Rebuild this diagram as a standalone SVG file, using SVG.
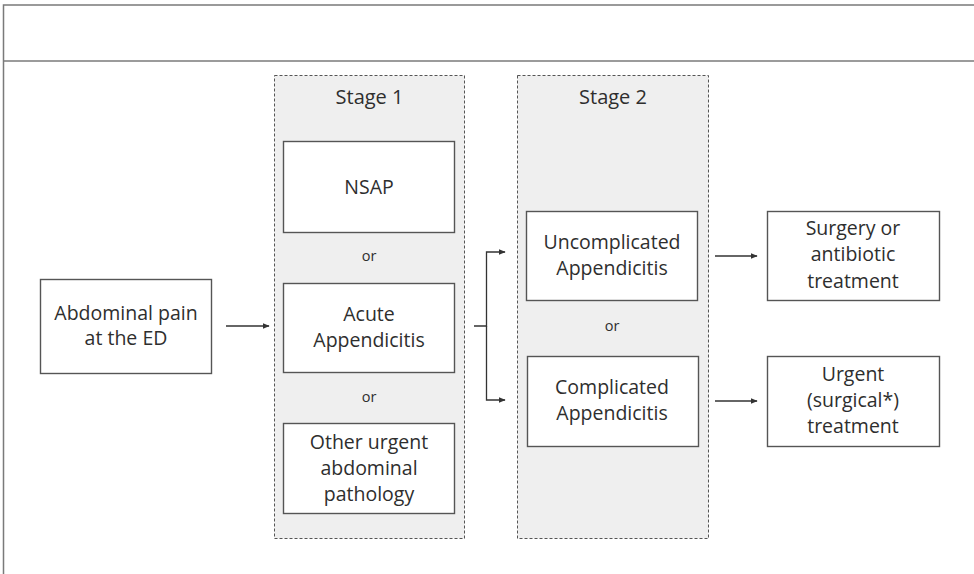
<svg xmlns="http://www.w3.org/2000/svg" width="974" height="574" viewBox="0 0 974 574">
  <style>
    text { font-family: "Open Sans", "Noto Sans", sans-serif; fill: #2e2e2e; text-anchor: middle; }
    .lbl { font-size: 19.5px; }
    .ttl { font-size: 20px; }
    .or { font-size: 14.5px; }
    .box { fill: #ffffff; stroke: #555555; stroke-width: 1.4; }
    .stage { fill: #efefef; stroke: #555555; stroke-width: 1; stroke-dasharray: 3 2; }
    .frame { fill: none; stroke: #7a7a7a; stroke-width: 1.5; }
    .conn { fill: none; stroke: #333333; stroke-width: 1.3; }
  </style>
  <defs>
    <marker id="arrow" viewBox="0 0 10 10" refX="9" refY="5" markerWidth="7" markerHeight="7" markerUnits="userSpaceOnUse" orient="auto">
      <path d="M0,1 L10,5 L0,9 z" fill="#333333"/>
    </marker>
  </defs>

  <rect width="974" height="574" fill="#ffffff"/>

  <!-- page frame with header band -->
  <g id="frame">
    <path class="frame" d="M974,5 H3.5 V574"/>
    <path class="frame" d="M3.5,61 H974" stroke="#999999"/>
  </g>

  <!-- stage panels -->
  <g id="stage1">
    <rect class="stage" x="274.5" y="75.5" width="190" height="463"/>
    <text class="ttl" x="369.5" y="104">Stage 1</text>
  </g>
  <g id="stage2">
    <rect class="stage" x="517.5" y="75.5" width="191" height="463"/>
    <text class="ttl" x="613" y="104">Stage 2</text>
  </g>

  <g id="start">
    <rect class="box" x="40.5" y="279.5" width="171" height="94"/>
    <text class="lbl" x="126" y="320">Abdominal pain</text>
    <text class="lbl" x="126" y="345">at the ED</text>
  </g>

  <g id="nsap">
    <rect class="box" x="283.5" y="141.5" width="171" height="91"/>
    <text class="lbl" x="369" y="194">NSAP</text>
  </g>
  <text class="or" x="369" y="261">or</text>

  <g id="acute">
    <rect class="box" x="283.5" y="283.5" width="171" height="89"/>
    <text class="lbl" x="369" y="321">Acute</text>
    <text class="lbl" x="369" y="347">Appendicitis</text>
  </g>
  <text class="or" x="369" y="402">or</text>

  <g id="other">
    <rect class="box" x="283.5" y="423.5" width="171" height="90"/>
    <text class="lbl" x="369" y="449">Other urgent</text>
    <text class="lbl" x="369" y="475">abdominal</text>
    <text class="lbl" x="369" y="501">pathology</text>
  </g>

  <g id="uncomplicated">
    <rect class="box" x="526.5" y="211.5" width="171" height="89"/>
    <text class="lbl" x="612" y="249">Uncomplicated</text>
    <text class="lbl" x="612" y="275">Appendicitis</text>
  </g>
  <text class="or" x="612" y="331">or</text>

  <g id="complicated">
    <rect class="box" x="527.5" y="356.5" width="171" height="90"/>
    <text class="lbl" x="612" y="394">Complicated</text>
    <text class="lbl" x="612" y="420">Appendicitis</text>
  </g>

  <g id="surgery">
    <rect class="box" x="767.5" y="211.5" width="172" height="89"/>
    <text class="lbl" x="853" y="235">Surgery or</text>
    <text class="lbl" x="853" y="261">antibiotic</text>
    <text class="lbl" x="853" y="288">treatment</text>
  </g>

  <g id="urgent">
    <rect class="box" x="767.5" y="356.5" width="172" height="90"/>
    <text class="lbl" x="853" y="381">Urgent</text>
    <text class="lbl" x="853" y="407">(surgical*)</text>
    <text class="lbl" x="853" y="433">treatment</text>
  </g>

  <!-- connectors -->
  <g id="connectors">
    <path class="conn" d="M226,326 H269" marker-end="url(#arrow)"/>
    <path class="conn" d="M474,326 H486.5 V252 H505" marker-end="url(#arrow)"/>
    <path class="conn" d="M486.5,326 V400 H505" marker-end="url(#arrow)"/>
    <path class="conn" d="M715,256 H757" marker-end="url(#arrow)"/>
    <path class="conn" d="M715,401 H757" marker-end="url(#arrow)"/>
  </g>
</svg>
